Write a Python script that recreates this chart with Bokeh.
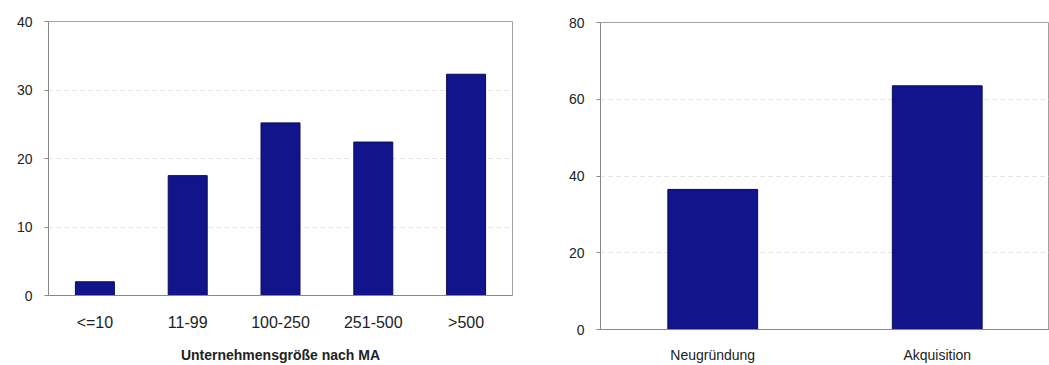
from bokeh.plotting import figure
from bokeh.layouts import row
from bokeh.models import Range1d, FixedTicker
from bokeh.embed import file_html
from bokeh.resources import INLINE

# Left chart data
size_cats = ["<=10", "11-99", "100-250", "251-500", ">500"]
size_vals = [2.0, 17.5, 25.2, 22.4, 32.3]
size_ticks = [0, 10, 20, 30, 40]
size_title = "Unternehmensgröße nach MA"

# Right chart data
mode_cats = ["Neugründung", "Akquisition"]
mode_vals = [36.5, 63.5]
mode_ticks = [0, 20, 40, 60, 80]

FONT = "Liberation Sans"
BAR_FILL = "#12148c"
BAR_LINE = "#0a0a55"
TXT = "#222222"


def style(p, ticks):
    p.outline_line_color = "#a0a0a0"
    p.outline_line_width = 1
    p.xgrid.grid_line_color = None
    p.ygrid.grid_line_color = "#e2e2e2"
    p.ygrid.grid_line_dash = "4 4"
    p.yaxis.ticker = FixedTicker(ticks=ticks)
    for ax in (p.xaxis[0], p.yaxis[0]):
        ax.axis_line_color = "#888888"
        ax.major_tick_line_color = "#888888"
        ax.major_tick_out = 4
        ax.major_tick_in = 0
        ax.minor_tick_line_color = None
        ax.major_label_text_font = FONT
        ax.major_label_text_color = TXT
        ax.major_label_text_font_size = "14px"
    p.xaxis.major_tick_line_color = None
    p.xaxis.major_tick_out = 0
    p.yaxis.major_label_standoff = 12
    p.frame_align = False


p1 = figure(x_range=size_cats, y_range=Range1d(0, 40), width=520, height=365,
            output_backend="svg", toolbar_location=None,
            min_border_left=48, min_border_right=8, min_border_top=21, min_border_bottom=69)
p1.vbar(x=size_cats, top=size_vals, width=0.42, fill_color=BAR_FILL, line_color=BAR_LINE)
style(p1, size_ticks)
p1.xaxis.major_label_text_font_size = "16px"
p1.xaxis.major_label_standoff = 18
p1.xaxis.axis_label = size_title
p1.xaxis.axis_label_text_font = FONT
p1.xaxis.axis_label_text_font_style = "bold"
p1.xaxis.axis_label_text_font_size = "14px"
p1.xaxis.axis_label_text_color = TXT
p1.xaxis.axis_label_standoff = 13

p2 = figure(x_range=mode_cats, y_range=Range1d(0, 80), width=529, height=365,
            output_backend="svg", toolbar_location=None,
            min_border_left=80, min_border_right=0, min_border_top=22, min_border_bottom=34)
p2.vbar(x=mode_cats, top=mode_vals, width=0.40, fill_color=BAR_FILL, line_color=BAR_LINE)
style(p2, mode_ticks)
p2.xaxis.major_label_standoff = 17

layout = row(p1, p2)
open("out.html", "w").write(file_html(layout, INLINE))
